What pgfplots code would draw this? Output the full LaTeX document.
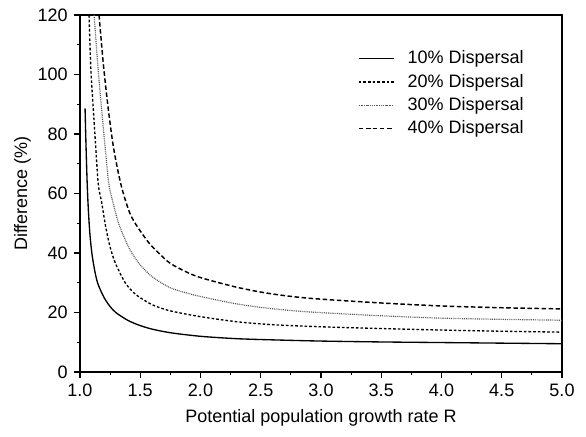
\documentclass[border=0pt]{standalone}
\usepackage{fontspec}
\setmainfont{Liberation Sans}
\usepackage{pgfplots}
\pgfplotsset{compat=1.18}

\begin{document}
\fontsize{13.5}{16}\selectfont
\begin{tikzpicture}
\begin{axis}[
  scale only axis,
  width=361.5pt, height=267.75pt,
  xmin=1, xmax=5, ymin=0, ymax=120,
  xtick={1,1.5,...,5}, ytick={0,20,...,120},
  minor x tick num=1, minor y tick num=1,
  xtick pos=bottom, ytick pos=left,
  tick align=outside,
  major tick length=4.5pt, minor tick length=2.3pt,
  every tick/.style={black, line width=0.9pt},
  axis line style={line width=1.2pt},
  xticklabel style={/pgf/number format/.cd, fixed, fixed zerofill, precision=1},
  /pgf/number format/assume math mode=true,
  tick label style={font=\fontsize{13.5}{16}\selectfont},
  label style={font=\fontsize{13.5}{16}\selectfont},
  xlabel={Potential population growth rate R},
  ylabel={Difference (\%)},
  xlabel style={yshift=0pt},
  ylabel style={yshift=-4pt},
  legend style={draw=none, fill=none, at={(rel axis cs:0.935,0.915)}, anchor=north east,
    font=\fontsize{13.5}{16}\selectfont, row sep=1.6pt},
  legend cell align=left,
  legend image code/.code={\draw[#1] plot coordinates {(0cm,0cm) (0.92cm,0cm)}; \path (1.2cm,0cm);},
  clip=true,
]
\addplot[black, line width=1pt, smooth] coordinates {
(1.042,88.6) (1.05,76) (1.06,63) (1.07,54) (1.083,46) (1.1,39.5) (1.125,33.5)
(1.15,29.5) (1.2,25) (1.25,22) (1.3,19.9) (1.4,17.3) (1.5,15.6) (1.6,14.4)
(1.75,13.2) (2.0,12.0) (2.3,11.2) (2.6,10.8) (3.0,10.4) (3.5,10.1) (4.0,9.9)
(4.5,9.7) (5.0,9.5)};
\addlegendentry{10\% Dispersal}
\addplot[black, line width=1pt, smooth, dash pattern=on 2pt off 1.5pt] coordinates {
(1.075,120) (1.09,102) (1.111,88) (1.13,76) (1.152,63) (1.18,57) (1.208,50)
(1.235,44.5) (1.264,40) (1.3,36) (1.375,30) (1.45,26.5) (1.514,24.6)
(1.6,22.6) (1.7,21.1) (1.8,20.1) (2.0,18.6) (2.3,16.9) (2.6,15.9) (3.0,15.2)
(3.5,14.6) (4.0,14.1) (4.5,13.7) (5.0,13.4)};
\addlegendentry{20\% Dispersal}
\addplot[black!65, line width=0.9pt, smooth, dash pattern=on 0.7pt off 0.7pt] coordinates {
(1.117,120) (1.15,102) (1.18,88) (1.21,75) (1.24,63) (1.28,56) (1.32,50)
(1.38,44) (1.43,40) (1.5,36) (1.6,32) (1.75,28.3) (1.9,26.4) (2.02,25.2)
(2.3,22.9) (2.57,21.4) (2.9,20.2) (3.5,18.9) (4.0,18.1) (4.5,17.7) (5.0,17.4)};
\addlegendentry{30\% Dispersal}
\addplot[black, line width=1.1pt, smooth, dash pattern=on 3.4pt off 1.9pt] coordinates {
(1.158,120) (1.195,103) (1.236,88) (1.28,75) (1.34,63) (1.403,54.5)
(1.45,50.5) (1.514,46.6) (1.58,43) (1.653,40) (1.75,36.5) (1.9,33.3)
(2.02,31.5) (2.3,28.5) (2.57,26.4) (2.9,24.8) (3.5,23.2) (4.0,22.2)
(4.5,21.6) (5.0,21.2)};
\addlegendentry{40\% Dispersal}
\coordinate (ll) at (rel axis cs:0,0);
\coordinate (ur) at (rel axis cs:1,1);
\end{axis}
\path (ll) ++(-60pt,-48pt) (ur) ++(18pt,11.25pt);
\end{tikzpicture}
\end{document}
